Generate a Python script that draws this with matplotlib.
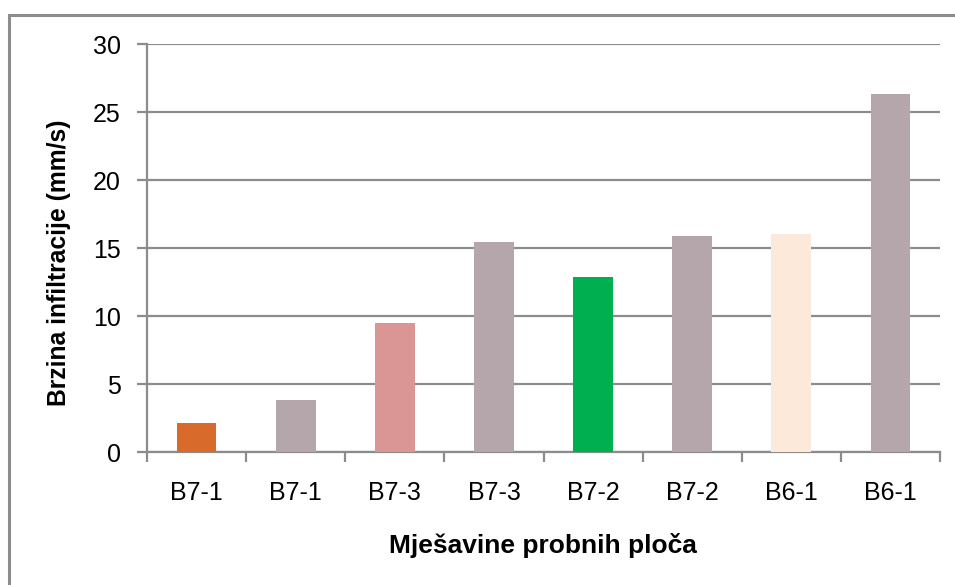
import matplotlib.pyplot as plt
from matplotlib.patches import Rectangle

plt.rcParams['font.family'] = ['Liberation Sans', 'DejaVu Sans']

labels = ['B7-1', 'B7-1', 'B7-3', 'B7-3', 'B7-2', 'B7-2', 'B6-1', 'B6-1']
values = [2.1, 3.8, 9.45, 15.45, 12.85, 15.85, 16.0, 26.35]
colors = ['#D86B2C', '#B5A6AB', '#DA9694', '#B5A6AB',
          '#00B050', '#B5A6AB', '#FDE9D9', '#B5A6AB']

W, H = 955, 585
fig = plt.figure(figsize=(W / 100, H / 100), dpi=100)
ax = fig.add_axes([147 / W, 1 - 452 / H, (940 - 147) / W, (452 - 44) / H])

x = list(range(len(values)))
ax.bar(x, values, width=0.4, color=colors, zorder=3)

ax.set_xlim(-0.5, len(values) - 0.5)
ax.set_ylim(0, 30)
ax.set_yticks(range(0, 31, 5))
ax.set_xticks(x)
ax.set_xticklabels(labels)
ax.set_xticks([i - 0.5 for i in range(len(values) + 1)], minor=True)

grid = '#8C8C8C'
ax.grid(axis='y', color=grid, linewidth=1.6, zorder=0)
for s in ['top', 'right']:
    ax.spines[s].set_visible(False)
for s in ['left', 'bottom']:
    ax.spines[s].set_color(grid)
    ax.spines[s].set_linewidth(1.6)

ax.tick_params(axis='y', length=7, width=1.6, color=grid, labelsize=18, pad=12)
ax.tick_params(axis='x', which='major', length=0, labelsize=18, pad=21)
ax.tick_params(axis='x', which='minor', length=7, width=1.6, color=grid)

fig.text(543 / W, 1 - 545 / H, 'Mješavine probnih ploča', ha='center', va='center',
         fontsize=19, fontweight='bold')
fig.text(59 / W, 1 - 263 / H, 'Brzina infiltracije (mm/s)', ha='center', va='center',
         rotation=90, fontsize=17.8, fontweight='bold')

fig.patches.append(Rectangle((9 / W, -0.1), 1.2, 1 - 15 / H + 0.1, transform=fig.transFigure,
                             fill=False, edgecolor='#8C8C8C', linewidth=2.2, clip_on=False))

fig.savefig('out.png', dpi=100)
